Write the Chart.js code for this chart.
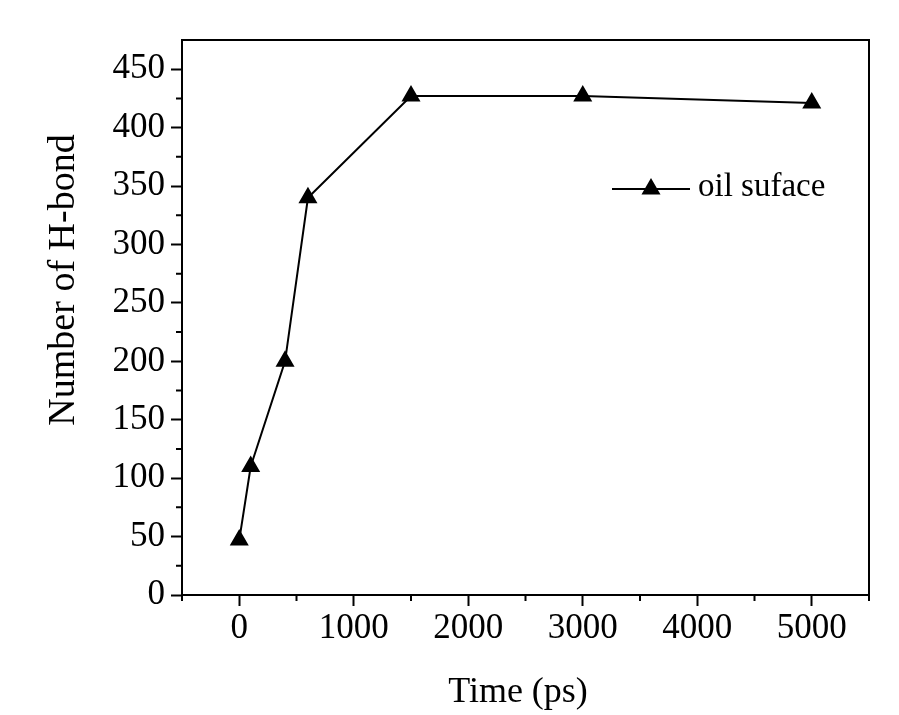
<!DOCTYPE html>
<html>
<head>
<meta charset="utf-8">
<script src="https://cdn.jsdelivr.net/npm/chart.js@4.4.0/dist/chart.umd.min.js"></script>
<style>
  html, body { margin: 0; padding: 0; background: #ffffff; }
  #wrap { width: 899px; height: 715px; }
</style>
</head>
<body>
<div id="wrap"><canvas id="hbondChart" width="899" height="715"></canvas></div>
<script>
// H-bond count on the oil surface over time
const timePs = [0, 100, 400, 600, 1500, 3000, 5000];
const hbondCount = [47, 110, 200, 340, 427, 427, 421];
const seriesName = 'oil suface';
const xTitle = 'Time (ps)';
const yTitle = 'Number of H-bond';

// axis ticks (labelled) and the small ones in between
const xTicks = [0, 1000, 2000, 3000, 4000, 5000];
const xMinor = [-500, 500, 1500, 2500, 3500, 4500, 5500];
const yTicks = [0, 50, 100, 150, 200, 250, 300, 350, 400, 450];
const yMinor = [25, 75, 125, 175, 225, 275, 325, 375, 425];

const serif = "'Liberation Serif', 'Times New Roman', serif";

// box around the plot, minor ticks, axis titles and the legend
const framePlugin = {
    id: 'frame',
    afterDraw(chart) {
        const ctx = chart.ctx;
        const area = chart.chartArea;
        const xs = chart.scales.x;
        const ys = chart.scales.y;
        ctx.save();
        ctx.strokeStyle = '#000';
        ctx.lineWidth = 2;
        ctx.strokeRect(area.left, area.top, area.right - area.left, area.bottom - area.top);

        ctx.beginPath();
        xMinor.forEach(v => {
            const px = xs.getPixelForValue(v);
            ctx.moveTo(px, area.bottom);
            ctx.lineTo(px, area.bottom + 6);
        });
        yMinor.forEach(v => {
            const py = ys.getPixelForValue(v);
            ctx.moveTo(area.left, py);
            ctx.lineTo(area.left - 6, py);
        });
        ctx.stroke();

        ctx.fillStyle = '#000';
        ctx.textAlign = 'center';
        ctx.textBaseline = 'alphabetic';

        // x axis title
        ctx.font = '36px ' + serif;
        ctx.fillText(xTitle, 518, 702);

        // y axis title, sits a bit above the middle like the original
        ctx.save();
        ctx.translate(74, 280);
        ctx.rotate(-Math.PI / 2);
        ctx.font = '38px ' + serif;
        ctx.fillText(yTitle, 0, 0);
        ctx.restore();

        // legend entry
        const ly = 189;
        ctx.beginPath();
        ctx.moveTo(612, ly);
        ctx.lineTo(690, ly);
        ctx.stroke();
        Chart.helpers.drawPoint(ctx, { pointStyle: 'triangle', radius: 9, borderWidth: 1 }, 651, ly);
        ctx.font = '33px ' + serif;
        ctx.textAlign = 'left';
        ctx.textBaseline = 'middle';
        ctx.fillText(seriesName, 698, ly - 2);
        ctx.restore();
    }
};

new Chart(document.getElementById('hbondChart'), {
    type: 'scatter',
    data: {
        datasets: [{
            label: seriesName,
            data: timePs.map((t, i) => ({ x: t, y: hbondCount[i] })),
            showLine: true,
            borderColor: '#000',
            backgroundColor: '#000',
            borderWidth: 2,
            pointStyle: 'triangle',
            pointRadius: 9,
            pointHoverRadius: 9
        }]
    },
    options: {
        responsive: false,
        animation: false,
        layout: { padding: { top: 40, right: 30, left: 0, bottom: 0 } },
        plugins: {
            legend: { display: false },
            tooltip: { enabled: false }
        },
        scales: {
            x: {
                type: 'linear',
                min: -500,
                max: 5500,
                afterBuildTicks: axis => { axis.ticks = xTicks.map(v => ({ value: v })); },
                afterFit: scale => { scale.height = 120; },
                grid: { drawOnChartArea: false, tickLength: 11, tickWidth: 2, tickColor: '#000' },
                border: { display: true, color: '#000', width: 2 },
                ticks: {
                    color: '#000',
                    padding: 2,
                    maxRotation: 0,
                    callback: value => String(value),
                    font: { family: serif, size: 35 }
                }
            },
            y: {
                type: 'linear',
                min: 0,
                max: 475,
                afterBuildTicks: axis => { axis.ticks = yTicks.map(v => ({ value: v })); },
                afterFit: scale => { scale.width = 182; },
                grid: { drawOnChartArea: false, tickLength: 11, tickWidth: 2, tickColor: '#000' },
                border: { display: true, color: '#000', width: 2 },
                ticks: {
                    color: '#000',
                    padding: 6,
                    callback: value => String(value),
                    font: { family: serif, size: 35 }
                }
            }
        }
    },
    plugins: [framePlugin]
});
</script>
</body>
</html>
